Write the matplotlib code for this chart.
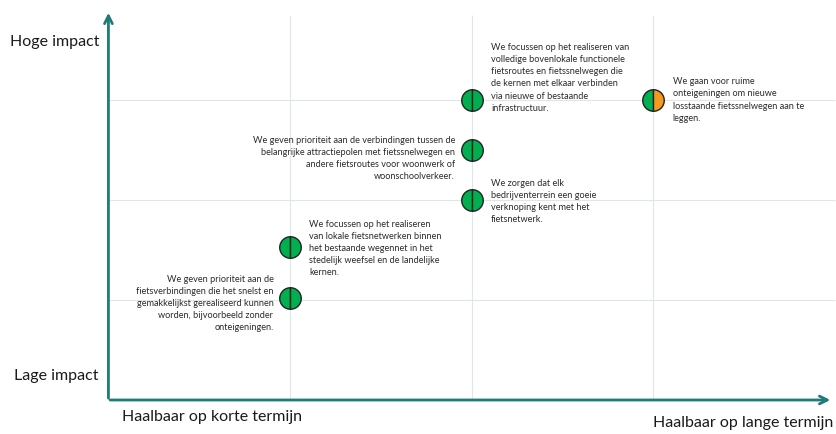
import matplotlib
matplotlib.use("Agg")
from matplotlib import pyplot as plt

# haalbaarheid (1 = korte termijn, 3 = lange termijn) en impact
x_vals = [2, 3, 2, 2, 1, 1]
y_vals = [3.0, 3.0, 2.5, 2.0, 1.53, 1.02]
right_colors = ["#00B050", "#F59A1E", "#00B050", "#00B050", "#00B050", "#00B050"]
left_color = "#00B050"

labels = [
    "We focussen op het realiseren van\nvolledige bovenlokale functionele\n"
    "fietsroutes en fietssnelwegen die\nde kernen met elkaar verbinden\n"
    "via nieuwe of bestaande\ninfrastructuur.",
    "We gaan voor ruime\nonteigeningen om nieuwe\n"
    "losstaande fietssnelwegen aan te\nleggen.",
    "We geven prioriteit aan de verbindingen tussen de\n"
    "belangrijke attractiepolen met fietssnelwegen en\n"
    "andere fietsroutes voor woonwerk of\nwoonschoolverkeer.",
    "We zorgen dat elk\nbedrijventerrein een goeie\nverknoping kent met het\nfietsnetwerk.",
    "We focussen op het realiseren\nvan lokale fietsnetwerken binnen\n"
    "het bestaande wegennet in het\nstedelijk weefsel en de landelijke\nkernen.",
    "We geven prioriteit aan de\nfietsverbindingen die het snelst en\n"
    "gemakkelijkst gerealiseerd kunnen\nworden, bijvoorbeeld zonder\nonteigeningen.",
]
# label offsets in points and alignment
offsets = [(14, 16), (14, 0), (-12, -6), (14, -1), (14, -1), (-12, -4)]
aligns = ["left", "left", "right", "left", "left", "right"]

axis_color = "#1F7A78"
grid_color = "#DCE8E8"

fig = plt.figure(figsize=(8.36, 4.34), dpi=100)
ax = fig.add_axes([0, 0, 1, 1])
ax.set_xlim(-0.597, 4.006)
ax.set_ylim(-0.34, 4.0)
ax.axis("off")

# grid
ax.vlines([1, 2, 3], 0, 3.85, color=grid_color, lw=0.8, zorder=1)
ax.hlines([1, 2, 3], 0, 4.0, color=grid_color, lw=0.8, zorder=1)

# axes with arrows
ax.annotate("", xy=(0, 3.9), xytext=(0, -0.01),
            arrowprops=dict(arrowstyle="->", color=axis_color, lw=2.0,
                            mutation_scale=14))
ax.annotate("", xy=(3.99, 0), xytext=(-0.006, 0),
            arrowprops=dict(arrowstyle="->", color=axis_color, lw=2.0,
                            mutation_scale=14))

# points: half green / half colored
for x, y, c in zip(x_vals, y_vals, right_colors):
    ax.plot(x, y, marker="o", markersize=15.5, fillstyle="left",
            markerfacecolor=left_color, markerfacecoloralt=c,
            markeredgecolor="#222222", markeredgewidth=1.0, zorder=3)

for x, y, txt, off, ha in zip(x_vals, y_vals, labels, offsets, aligns):
    ax.annotate(txt, xy=(x, y), xytext=off, textcoords="offset points",
                ha=ha, va="center", multialignment=ha, fontsize=6.6,
                family="Lato", color="#2b2b2b", linespacing=1.45)

# axis titles
fig.text(10 / 836, 1 - 42 / 434, "Hoge impact", fontsize=11.5, family="Lato",
         va="center", ha="left", color="#1a1a1a")
fig.text(14 / 836, 1 - 376 / 434, "Lage impact", fontsize=11.5, family="Lato",
         va="center", ha="left", color="#1a1a1a")
fig.text(212 / 836, 1 - 417 / 434, "Haalbaar op korte termijn", fontsize=11.5,
         family="Lato", va="center", ha="center", color="#1a1a1a")
fig.text(833 / 836, 1 - 423 / 434, "Haalbaar op lange termijn", fontsize=11.5,
         family="Lato", va="center", ha="right", color="#1a1a1a")

fig.savefig("out.png", dpi=100)
